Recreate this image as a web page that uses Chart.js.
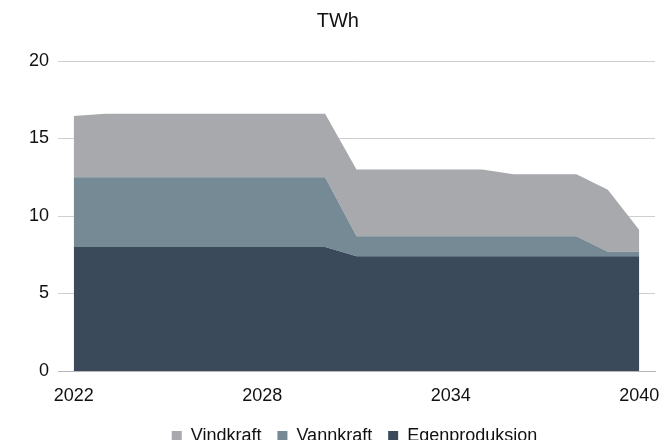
<!DOCTYPE html>
<html>
<head>
<meta charset="utf-8">
<script src="https://cdn.jsdelivr.net/npm/chart.js@4/dist/chart.umd.min.js"></script>
<style>
  html, body { margin: 0; padding: 0; background: #fff; overflow: hidden; }
  #wrap { position: relative; width: 660px; height: 455px; }
</style>
</head>
<body>
<div id="wrap"><canvas id="c"></canvas></div>
<script>
const years = [2022,2023,2024,2025,2026,2027,2028,2029,2030,2031,2032,2033,2034,2035,2036,2037,2038,2039,2040];
const egenproduksjon = [8.0,8.0,8.0,8.0,8.0,8.0,8.0,8.0,8.0,7.4,7.4,7.4,7.4,7.4,7.4,7.4,7.4,7.4,7.4];
const vannkraft = [4.5,4.5,4.5,4.5,4.5,4.5,4.5,4.5,4.5,1.3,1.3,1.3,1.3,1.3,1.3,1.3,1.3,0.3,0.3];
const vindkraft = [3.95,4.1,4.1,4.1,4.1,4.1,4.1,4.1,4.1,4.3,4.3,4.3,4.3,4.3,4.0,4.0,4.0,4.0,1.4];
const xTicks = [2022, 2028, 2034, 2040];
const yTicks = [0, 5, 10, 15, 20];
const unitTitle = 'TWh';

const FONT = "'Liberation Sans', Arial, sans-serif";
const pts = arr => arr.map((v, i) => ({ x: years[i], y: v }));

new Chart(document.getElementById('c'), {
  type: 'line',
  data: {
    datasets: [
      { label: 'Egenproduksjon', data: pts(egenproduksjon), backgroundColor: '#3a4a5b', borderColor: '#3a4a5b', fill: 'origin' },
      { label: 'Vannkraft', data: pts(vannkraft), backgroundColor: '#768a96', borderColor: '#768a96', fill: '-1' },
      { label: 'Vindkraft', data: pts(vindkraft), backgroundColor: '#a8a9ad', borderColor: '#a8a9ad', fill: '-1' }
    ]
  },
  options: {
    responsive: true,
    maintainAspectRatio: false,
    animation: false,
    devicePixelRatio: 1,
    layout: { padding: { left: 54, right: 5, top: 0, bottom: 0 } },
    elements: {
      line: { borderWidth: 0, tension: 0 },
      point: { radius: 0, hoverRadius: 0 }
    },
    plugins: {
      tooltip: { enabled: false },
      title: {
        display: true,
        text: unitTitle + '\u00a0\u00a0\u00a0\u00a0\u00a0\u00a0',
        color: '#111',
        font: { family: FONT, size: 20, weight: 'normal' },
        padding: { top: 9, bottom: 28 }
      },
      legend: {
        position: 'bottom',
        reverse: true,
        labels: {
          boxWidth: 10,
          boxHeight: 10,
          padding: 16,
          color: '#111',
          font: { family: FONT, size: 18 }
        }
      }
    },
    scales: {
      x: {
        type: 'linear',
        min: 2021.5,
        max: 2040.5,
        afterBuildTicks: s => { s.ticks = xTicks.map(v => ({ value: v })); },
        afterFit: s => { s.paddingLeft = 0; s.paddingRight = 0; s.height = 40; },
        ticks: {
          color: '#111',
          font: { family: FONT, size: 18 },
          padding: 14,
          maxRotation: 0,
          autoSkip: false,
          callback: v => String(v)
        },
        grid: { display: false, drawTicks: false },
        border: { display: true, color: '#b5b5b5', width: 1 }
      },
      y: {
        stacked: true,
        min: 0,
        max: 20,
        afterBuildTicks: s => { s.ticks = yTicks.map(v => ({ value: v })); },
        afterFit: s => { s.width = 4; s._computeLabelArea = () => undefined; },
        ticks: {
          color: '#111',
          font: { family: FONT, size: 18 },
          padding: 9
        },
        grid: { color: '#cfcfcf', lineWidth: 1, drawTicks: false },
        border: { display: false }
      }
    }
  }
});
</script>
</body>
</html>
